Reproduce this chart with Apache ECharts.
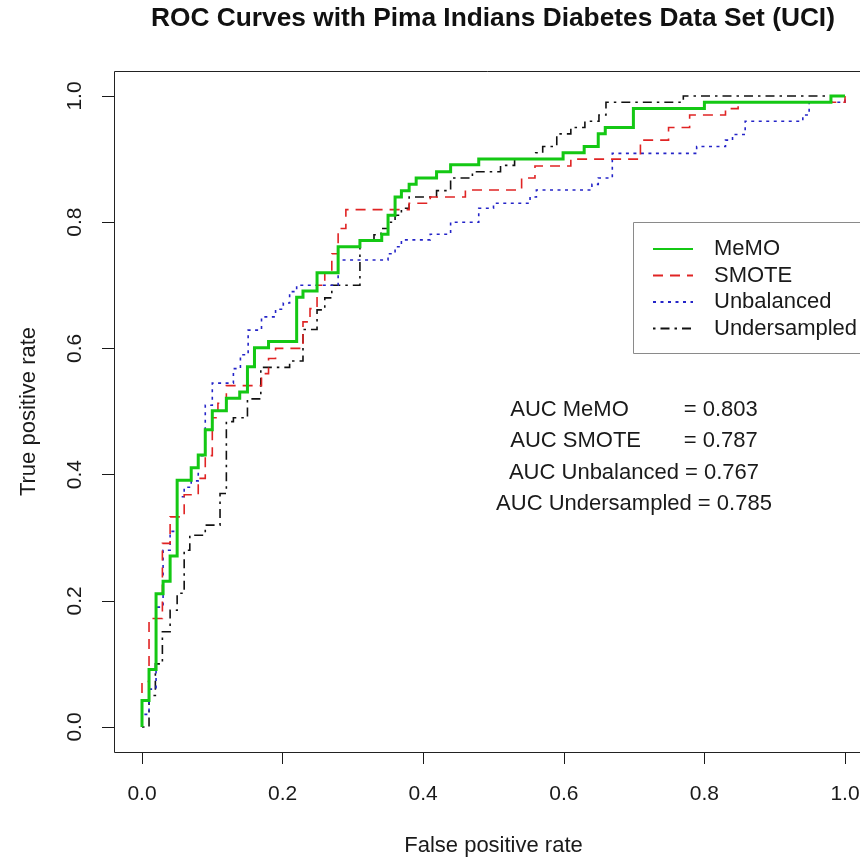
<!DOCTYPE html>
<html>
<head>
<meta charset="utf-8">
<script src="https://cdn.jsdelivr.net/npm/echarts@6/dist/echarts.min.js"></script>
<style>
  html, body { margin: 0; padding: 0; background: #ffffff; }
  #chart { width: 860px; height: 857px; }
</style>
</head>
<body>
<div id="chart"></div>
<script>
// ROC staircases: each point is the end of a horizontal run; the rise to its
// TPR level happens at the previous point's FPR (drawn with step: 'start').
const seriesNames = ['MeMO', 'SMOTE', 'Unbalanced', 'Undersampled'];

const memoFpr = [0, 0.01, 0.02, 0.03, 0.04, 0.05, 0.07, 0.08, 0.09, 0.10, 0.12, 0.139, 0.15, 0.16, 0.18, 0.22, 0.229, 0.249, 0.279, 0.31, 0.341, 0.35, 0.36, 0.369, 0.38, 0.39, 0.419, 0.439, 0.479, 0.599, 0.629, 0.649, 0.659, 0.699, 0.80, 0.98, 1.0];
const memoTpr = [0, 0.042, 0.091, 0.211, 0.231, 0.271, 0.391, 0.411, 0.431, 0.471, 0.501, 0.521, 0.531, 0.571, 0.601, 0.611, 0.681, 0.691, 0.72, 0.761, 0.771, 0.781, 0.811, 0.84, 0.85, 0.86, 0.87, 0.88, 0.891, 0.90, 0.91, 0.92, 0.94, 0.95, 0.98, 0.99, 1.0];

const smoteFpr = [0, 0.01, 0.029, 0.04, 0.06, 0.08, 0.09, 0.10, 0.108, 0.12, 0.17, 0.18, 0.19, 0.229, 0.239, 0.249, 0.26, 0.27, 0.279, 0.29, 0.38, 0.41, 0.46, 0.54, 0.559, 0.61, 0.709, 0.749, 0.779, 0.83, 0.848, 1.0, 1.0];
const smoteTpr = [0, 0.072, 0.172, 0.291, 0.333, 0.368, 0.394, 0.43, 0.49, 0.513, 0.541, 0.56, 0.584, 0.60, 0.642, 0.663, 0.70, 0.72, 0.75, 0.79, 0.82, 0.83, 0.84, 0.851, 0.87, 0.889, 0.90, 0.93, 0.95, 0.97, 0.98, 0.99, 1.0];

const unbalancedFpr = [0, 0.01, 0.02, 0.03, 0.04, 0.05, 0.06, 0.07, 0.08, 0.09, 0.10, 0.13, 0.14, 0.151, 0.17, 0.19, 0.201, 0.21, 0.22, 0.279, 0.35, 0.36, 0.369, 0.41, 0.439, 0.479, 0.5, 0.552, 0.561, 0.64, 0.649, 0.669, 0.789, 0.83, 0.84, 0.858, 0.94, 0.949, 1.0, 1.0];
const unbalancedTpr = [0, 0.02, 0.06, 0.19, 0.28, 0.31, 0.365, 0.38, 0.39, 0.43, 0.51, 0.545, 0.568, 0.59, 0.629, 0.65, 0.662, 0.672, 0.69, 0.70, 0.74, 0.75, 0.761, 0.772, 0.781, 0.80, 0.822, 0.83, 0.84, 0.851, 0.86, 0.87, 0.909, 0.92, 0.93, 0.939, 0.96, 0.97, 0.99, 1.0];

const underFpr = [0, 0.01, 0.019, 0.029, 0.04, 0.05, 0.06, 0.068, 0.09, 0.111, 0.12, 0.13, 0.15, 0.169, 0.21, 0.229, 0.249, 0.26, 0.27, 0.31, 0.33, 0.34, 0.35, 0.36, 0.369, 0.38, 0.419, 0.439, 0.47, 0.51, 0.53, 0.56, 0.57, 0.59, 0.61, 0.63, 0.65, 0.66, 0.77, 1.0];
const underTpr = [0, 0, 0.05, 0.10, 0.151, 0.185, 0.212, 0.28, 0.304, 0.32, 0.37, 0.484, 0.49, 0.52, 0.57, 0.58, 0.63, 0.661, 0.68, 0.70, 0.77, 0.78, 0.79, 0.80, 0.811, 0.822, 0.84, 0.85, 0.87, 0.88, 0.89, 0.90, 0.91, 0.92, 0.94, 0.95, 0.96, 0.97, 0.99, 1.0];

const aucValues = [0.803, 0.787, 0.767, 0.785];
const aucPadding = ['         ', '       ', ' ', ' '];

const FONT = '"Liberation Sans", Arial, Helvetica, sans-serif';
const INK = '#1a1a1a';

function zip(xs, ys) { return xs.map((x, i) => [x, ys[i]]); }

const curves = [
  { fpr: memoFpr, tpr: memoTpr, color: '#14c814', width: 3, type: 'solid' },
  { fpr: smoteFpr, tpr: smoteTpr, color: '#e02424', width: 1.6, type: [10, 7] },
  { fpr: unbalancedFpr, tpr: unbalancedTpr, color: '#2424c8', width: 1.6, type: [3, 4.5] },
  { fpr: underFpr, tpr: underTpr, color: '#111111', width: 1.6, type: [2.5, 5, 9, 5] }
];

const chart = echarts.init(document.getElementById('chart'), null, { renderer: 'canvas' });

const axisCommon = {
  type: 'value', min: 0, max: 1, interval: 0.2,
  axisLine: { show: true, onZero: false, lineStyle: { color: INK, width: 1 } },
  axisTick: { show: true, inside: false, length: 12, lineStyle: { color: INK, width: 1 } },
  splitLine: { show: false },
  nameLocation: 'middle',
  nameTextStyle: { fontFamily: FONT, fontSize: 22, color: INK }
};

chart.setOption({
  backgroundColor: '#ffffff',
  animation: false,
  grid: { left: 142, top: 96, width: 703, height: 631,
          containLabel: false, outerBoundsMode: 'none' },
  xAxis: Object.assign({}, axisCommon, {
    offset: 25,
    name: 'False positive rate',
    nameGap: 83,
    axisLabel: { margin: 32, fontFamily: FONT, fontSize: 21, color: INK,
                 formatter: v => v.toFixed(1) }
  }),
  yAxis: Object.assign({}, axisCommon, {
    offset: 28,
    name: 'True positive rate',
    nameGap: 74,
    axisLabel: { margin: 28, rotate: 90, fontFamily: FONT, fontSize: 21, color: INK,
                 formatter: v => v.toFixed(1) }
  }),
  legend: {
    data: seriesNames,
    orient: 'vertical',
    left: 652, top: 238, padding: 0,
    itemWidth: 40, itemHeight: 14, itemGap: 4.5,
    itemStyle: { color: 'rgba(0,0,0,0)', borderWidth: 0, opacity: 0 },
    textStyle: { fontFamily: FONT, fontSize: 22, color: INK, padding: [0, 0, 0, 16] },
    selectedMode: false
  },
  series: curves.map((c, i) => ({
    name: seriesNames[i],
    type: 'line',
    step: 'start',
    data: zip(c.fpr, c.tpr),
    symbol: 'none',
    showSymbol: false,
    clip: false,
    z: 10 - i,
    color: c.color,
    lineStyle: { color: c.color, width: c.width, type: c.type, cap: 'butt', join: 'miter' }
  })),
  graphic: [
    { type: 'rect', silent: true, z: 100,
      shape: { x: 114.5, y: 71.5, width: 759, height: 681 },
      style: { fill: null, stroke: '#222222', lineWidth: 1 } },
    { type: 'rect', silent: true, z: 100,
      shape: { x: 633.5, y: 222.5, width: 260, height: 131 },
      style: { fill: null, stroke: '#8a8a8a', lineWidth: 1 } },
    { type: 'text', silent: true, z: 100, x: 493, y: 19,
      style: { text: 'ROC Curves with Pima Indians Diabetes Data Set (UCI)',
               fontFamily: FONT, fontSize: 26.3, fontWeight: 'bold', fill: '#111',
               align: 'center', verticalAlign: 'middle' } }
  ].concat(seriesNames.map((n, i) => ({
    type: 'text', silent: true, z: 100, x: 634, y: 410 + i * 31.3,
    style: { text: 'AUC ' + n + aucPadding[i] + '= ' + aucValues[i].toFixed(3),
             fontFamily: FONT, fontSize: 22, fill: INK,
             align: 'center', verticalAlign: 'middle' }
  })))
});
</script>
</body>
</html>
